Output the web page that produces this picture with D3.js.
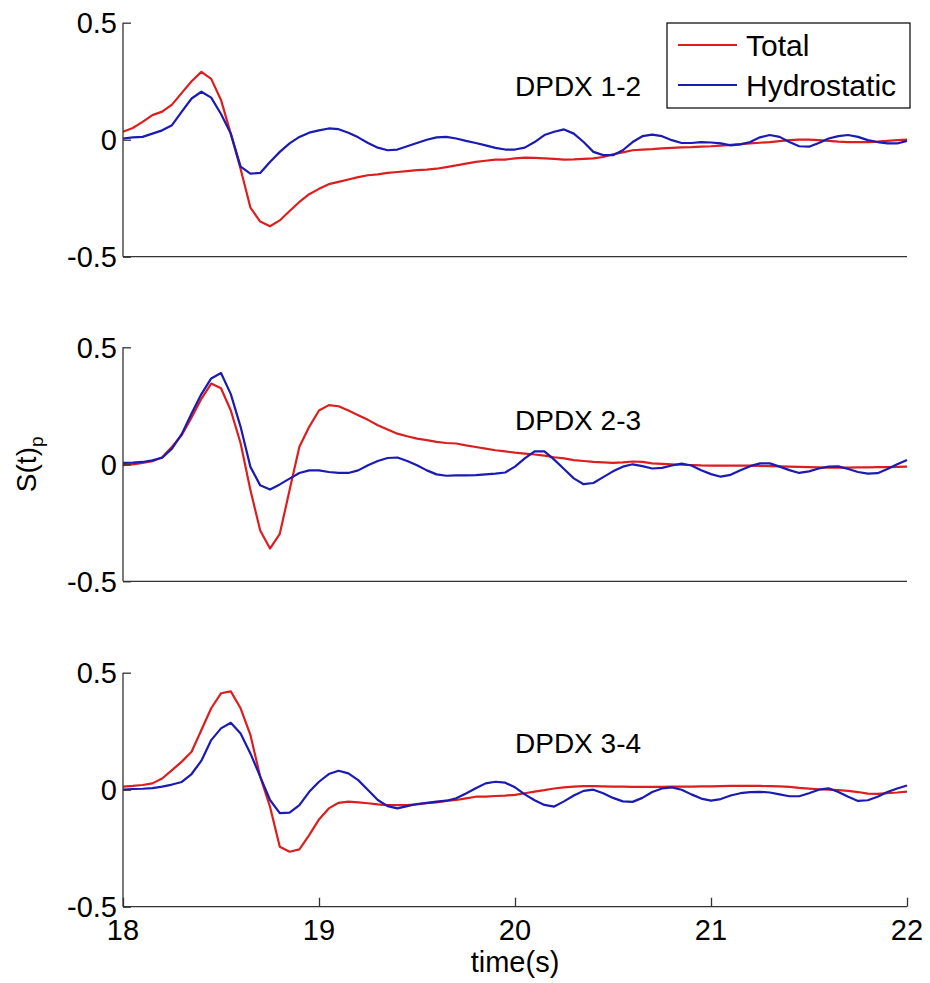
<!DOCTYPE html>
<html>
<head>
<meta charset="utf-8">
<script src="https://cdn.jsdelivr.net/npm/d3@7"></script>
<style>
  body { margin: 0; background: #fff; }
  svg text { font-family: "Liberation Sans", Arial, Helvetica, sans-serif; fill: #000; }
</style>
</head>
<body>
<svg id="chart"></svg>
<script>
// sample times (s)
const time = [
  18.00, 18.05, 18.10, 18.15, 18.20, 18.25, 18.30, 18.35, 18.40, 18.45,
  18.50, 18.55, 18.60, 18.65, 18.70, 18.75, 18.80, 18.85, 18.90, 18.95,
  19.00, 19.05, 19.10, 19.15, 19.20, 19.25, 19.30, 19.35, 19.40, 19.45,
  19.50, 19.55, 19.60, 19.65, 19.70, 19.75, 19.80, 19.85, 19.90, 19.95,
  20.00, 20.05, 20.10, 20.15, 20.20, 20.25, 20.30, 20.35, 20.40, 20.45,
  20.50, 20.55, 20.60, 20.65, 20.70, 20.75, 20.80, 20.85, 20.90, 20.95,
  21.00, 21.05, 21.10, 21.15, 21.20, 21.25, 21.30, 21.35, 21.40, 21.45,
  21.50, 21.55, 21.60, 21.65, 21.70, 21.75, 21.80, 21.85, 21.90, 21.95,
  22.00
];

// DPDX 1-2
const total12 = [
  0.034, 0.05, 0.076, 0.105, 0.12, 0.15, 0.2, 0.25, 0.29, 0.26,
  0.17, 0.025, -0.125, -0.29, -0.35, -0.37, -0.345, -0.305, -0.266, -0.233,
  -0.21, -0.19, -0.18, -0.17, -0.16, -0.152, -0.148, -0.142, -0.138, -0.134,
  -0.13, -0.128, -0.124, -0.117, -0.11, -0.102, -0.095, -0.09, -0.085, -0.085,
  -0.08, -0.077, -0.078, -0.08, -0.082, -0.085, -0.084, -0.082, -0.08, -0.074,
  -0.062, -0.054, -0.045, -0.042, -0.04, -0.037, -0.035, -0.033, -0.032, -0.03,
  -0.028, -0.025, -0.022, -0.019, -0.016, -0.013, -0.01, -0.006, -0.002, 0.0,
  0.0, -0.002, -0.005, -0.008, -0.01, -0.01, -0.01, -0.008, -0.005, -0.002,
  0.0
];
const hydro12 = [
  0.005, 0.01, 0.012, 0.026, 0.04, 0.062, 0.12, 0.176, 0.205, 0.18,
  0.11, 0.026, -0.115, -0.145, -0.142, -0.095, -0.052, -0.016, 0.012, 0.03,
  0.04, 0.048, 0.045, 0.03, 0.01, -0.014, -0.034, -0.045, -0.042, -0.028,
  -0.014, 0.0, 0.01, 0.012, 0.005, -0.005, -0.014, -0.024, -0.035, -0.042,
  -0.042, -0.034, -0.01, 0.02, 0.034, 0.044, 0.026, -0.01, -0.052, -0.066,
  -0.066, -0.045, -0.01, 0.015, 0.022, 0.015, -0.002, -0.014, -0.014, -0.01,
  -0.012, -0.016, -0.024, -0.02, -0.01, 0.01, 0.02, 0.012, -0.01, -0.028,
  -0.03, -0.014, 0.005, 0.015, 0.02, 0.012, -0.002, -0.01, -0.016, -0.016,
  -0.005
];

// DPDX 2-3
const total23 = [
  -0.004, 0.0, 0.006, 0.013, 0.03, 0.075, 0.125, 0.2, 0.28, 0.345,
  0.325, 0.23, 0.09, -0.11, -0.283, -0.36, -0.297, -0.11, 0.075, 0.16,
  0.23, 0.253, 0.248, 0.23, 0.21, 0.19, 0.167, 0.149, 0.131, 0.12,
  0.11, 0.103, 0.096, 0.091, 0.089, 0.081, 0.074, 0.067, 0.06, 0.055,
  0.05, 0.046, 0.042, 0.037, 0.03, 0.025, 0.018, 0.014, 0.01, 0.008,
  0.006, 0.008, 0.012, 0.01, 0.004, 0.002, 0.0, -0.002, -0.003, -0.005,
  -0.006, -0.006, -0.006, -0.006, -0.006, -0.007, -0.008, -0.009, -0.01, -0.011,
  -0.012, -0.013, -0.014, -0.014, -0.014, -0.013, -0.013, -0.012, -0.012, -0.011,
  -0.01
];
const hydro23 = [
  0.006, 0.007, 0.01, 0.017, 0.028, 0.067, 0.13, 0.217, 0.3, 0.367,
  0.39, 0.3, 0.16, -0.011, -0.09, -0.108, -0.086, -0.061, -0.037, -0.026,
  -0.026, -0.033, -0.037, -0.037, -0.026, -0.004, 0.014, 0.027, 0.029, 0.014,
  -0.004, -0.026, -0.043, -0.049, -0.047, -0.047, -0.046, -0.043, -0.04, -0.035,
  -0.01, 0.025, 0.055, 0.055, 0.02, -0.02, -0.06, -0.085, -0.08, -0.055,
  -0.03, -0.01, 0.0, -0.008, -0.018, -0.015, -0.005, 0.003, -0.005, -0.025,
  -0.042, -0.053, -0.045, -0.025, -0.008, 0.004, 0.004, -0.01, -0.025, -0.037,
  -0.03, -0.018, -0.01, -0.009, -0.02, -0.033, -0.04, -0.038, -0.02, 0.0,
  0.018
];

// DPDX 3-4
const total34 = [
  0.013, 0.016, 0.02, 0.027, 0.048, 0.084, 0.12, 0.162, 0.255, 0.348,
  0.412, 0.42, 0.348, 0.234, 0.056, -0.073, -0.244, -0.265, -0.255, -0.194,
  -0.127, -0.08, -0.056, -0.051, -0.054, -0.058, -0.063, -0.066, -0.066, -0.066,
  -0.063, -0.058, -0.054, -0.048, -0.044, -0.037, -0.03, -0.03, -0.027, -0.025,
  -0.022, -0.015, -0.008, -0.002, 0.005, 0.01, 0.013, 0.015, 0.015, 0.014,
  0.013, 0.013, 0.012, 0.012, 0.012, 0.012, 0.013, 0.013, 0.013, 0.014,
  0.014, 0.015, 0.016, 0.016, 0.016, 0.016, 0.015, 0.014, 0.012, 0.008,
  0.005, 0.002, 0.0, -0.002, -0.005, -0.01, -0.017, -0.018, -0.015, -0.012,
  -0.008
];
const hydro34 = [
  0.0, 0.003, 0.004, 0.007, 0.013, 0.022, 0.033, 0.067, 0.124, 0.212,
  0.262, 0.286, 0.24, 0.155, 0.056, -0.044, -0.1, -0.098, -0.066, -0.009,
  0.034, 0.067, 0.081, 0.07, 0.041, -0.001, -0.044, -0.07, -0.08, -0.07,
  -0.061, -0.056, -0.051, -0.047, -0.037, -0.016, 0.006, 0.027, 0.034, 0.03,
  0.01, -0.02, -0.045, -0.065, -0.072, -0.05, -0.025, -0.005, 0.0, -0.015,
  -0.035, -0.05, -0.052, -0.035, -0.01, 0.005, 0.01, 0.0, -0.02, -0.038,
  -0.047, -0.04, -0.025, -0.015, -0.01, -0.009, -0.012, -0.02, -0.028, -0.028,
  -0.015, 0.0, 0.006, -0.01, -0.03, -0.048, -0.045, -0.03, -0.01, 0.005,
  0.018
];

const panelTitles = ["DPDX 1-2", "DPDX 2-3", "DPDX 3-4"];
const titleValues = [0.23, 0.19, 0.2];
const seriesNames = ["Total", "Hydrostatic"];
const xTicks = [18, 19, 20, 21, 22];
const yTicks = [-0.5, 0, 0.5];
const yTickLabels = ["-0.5", "0", "0.5"];

const panels = [
  { title: panelTitles[0], titleY: titleValues[0], total: total12, hydro: hydro12 },
  { title: panelTitles[1], titleY: titleValues[1], total: total23, hydro: hydro23 },
  { title: panelTitles[2], titleY: titleValues[2], total: total34, hydro: hydro34 }
];

const width = 930, height = 983;
const left = 123, right = 907;
const panelTops = [22.7, 347.3, 672.7], panelH = 234;
const red = "#dc1e1e", blue = "#1a1ab4";

const svg = d3.select("#chart")
  .attr("width", width)
  .attr("height", height);

const x = d3.scaleLinear().domain([18, 22]).range([left, right]);

panels.forEach((p, i) => {
  const top = panelTops[i];
  const y = d3.scaleLinear().domain([-0.5, 0.5]).range([top + panelH, top]);
  const g = svg.append("g");

  const line = d3.line()
    .x((d, k) => x(time[k]))
    .y(d => y(d));

  g.append("path")
    .datum(p.total)
    .attr("fill", "none")
    .attr("stroke", red)
    .attr("stroke-width", 2.2)
    .attr("stroke-linejoin", "round")
    .attr("d", line);

  g.append("path")
    .datum(p.hydro)
    .attr("fill", "none")
    .attr("stroke", blue)
    .attr("stroke-width", 2.2)
    .attr("stroke-linejoin", "round")
    .attr("d", line);

  // left axis, ticks inward
  const yAxis = g.append("g")
    .attr("transform", `translate(${left},0)`)
    .call(d3.axisRight(y).tickValues(yTicks).tickSize(8).tickFormat(""));
  yAxis.select(".domain").attr("d", `M0,${top}V${top + panelH}`);
  yAxis.selectAll("path, line").attr("stroke", "#333").attr("stroke-width", 1.3);

  g.selectAll(".ylab")
    .data(yTicks)
    .join("text")
    .attr("x", left - 6)
    .attr("y", d => y(d))
    .attr("dy", "0.36em")
    .attr("text-anchor", "end")
    .attr("font-size", 29)
    .text((d, k) => yTickLabels[k]);

  // bottom axis
  const xAxis = g.append("g")
    .attr("transform", `translate(0,${top + panelH})`)
    .call(d3.axisTop(x).tickValues(i === 2 ? xTicks : []).tickSize(9).tickFormat(""));
  xAxis.select(".domain").attr("d", `M${left},0H${right}`);
  xAxis.selectAll("path, line").attr("stroke", "#333").attr("stroke-width", 1.3);

  if (i === 2) {
    g.selectAll(".xlab")
      .data(xTicks)
      .join("text")
      .attr("x", d => x(d))
      .attr("y", top + panelH + 33)
      .attr("text-anchor", "middle")
      .attr("font-size", 29)
      .text(d => d);
  }

  g.append("text")
    .attr("x", x(20))
    .attr("y", y(p.titleY))
    .attr("dy", "0.36em")
    .attr("font-size", 28)
    .text(p.title);
});

// axis labels
svg.append("text")
  .attr("x", (left + right) / 2)
  .attr("y", 972)
  .attr("text-anchor", "middle")
  .attr("font-size", 29)
  .text("time(s)");

const yl = svg.append("text")
  .attr("transform", `translate(36,${panelTops[1] + panelH / 2}) rotate(-90)`)
  .attr("text-anchor", "middle")
  .attr("font-size", 28);
yl.append("tspan").text("S(t)");
yl.append("tspan").attr("dy", 7).attr("font-size", 19).text("p");

// legend
const legend = svg.append("g").attr("transform", "translate(667,23)");
legend.append("rect")
  .attr("width", 243)
  .attr("height", 85)
  .attr("fill", "#fff")
  .attr("stroke", "#000")
  .attr("stroke-width", 1.2);
seriesNames.forEach((name, k) => {
  legend.append("line")
    .attr("x1", 11).attr("x2", 70)
    .attr("y1", 22 + k * 40).attr("y2", 22 + k * 40)
    .attr("stroke", k === 0 ? red : blue)
    .attr("stroke-width", 2);
  legend.append("text")
    .attr("x", 79)
    .attr("y", 22 + k * 40)
    .attr("dy", "0.36em")
    .attr("font-size", 30)
    .text(name);
});
</script>
</body>
</html>
